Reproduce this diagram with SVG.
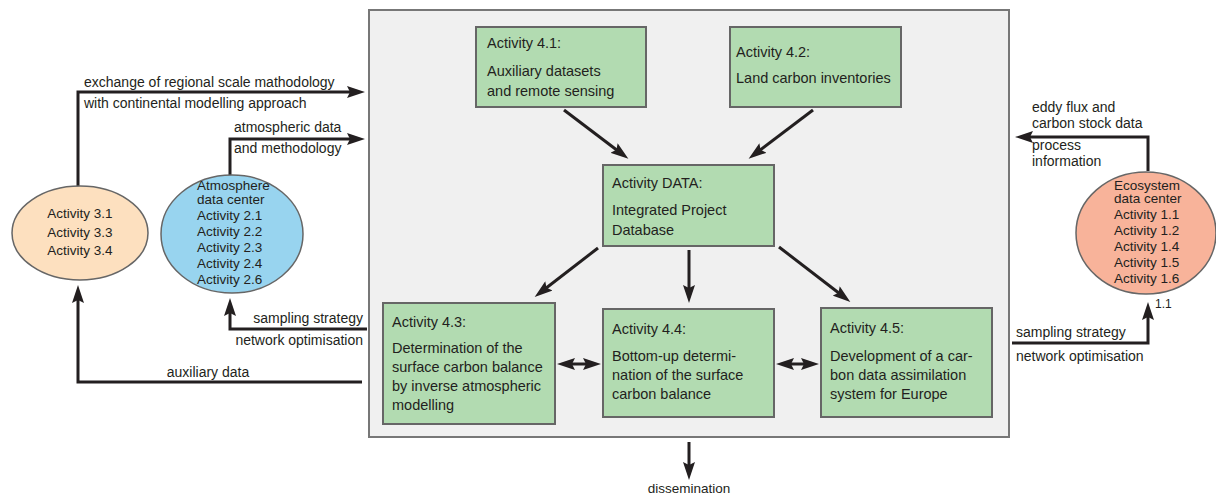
<svg xmlns="http://www.w3.org/2000/svg" width="1216" height="498" viewBox="0 0 1216 498">
  <style>
    text { font-family: "Liberation Sans", Arial, sans-serif; fill: #231f20; }
    .box { fill: #b2dbb1; stroke: #666666; stroke-width: 2; }
    .bt { font-size: 14.5px; }
    .lbl { font-size: 14px; }
    .et { font-size: 13.5px; }
    .wire { fill: none; stroke: #231f20; stroke-width: 3; }
    .ell { stroke: #666666; stroke-width: 1.5; }
  </style>
  <defs>
    <marker id="head" markerUnits="userSpaceOnUse" markerWidth="18" markerHeight="12" refX="10" refY="6" orient="auto-start-reverse" viewBox="0 0 18 12">
      <path d="M0,0 L18,6 L0,12 L3,6 z" fill="#231f20"/>
    </marker>
  </defs>

  <!-- project frame -->
  <rect id="frame" x="369" y="10" width="640" height="427" fill="#f0f0f0" stroke="#777777" stroke-width="2"/>

  <!-- connectors -->
  <g id="connectors">
    <path class="wire" d="M564,110 L622,154" marker-end="url(#head)"/>
    <path class="wire" d="M813,110 L755,154" marker-end="url(#head)"/>
    <path class="wire" d="M598,248 L541,292" marker-end="url(#head)"/>
    <path class="wire" d="M689,250 L689,295" marker-end="url(#head)"/>
    <path class="wire" d="M779,247 L844,297" marker-end="url(#head)"/>
    <path class="wire" d="M565,364 L593,364" marker-start="url(#head)" marker-end="url(#head)"/>
    <path class="wire" d="M784,364 L811,364" marker-start="url(#head)" marker-end="url(#head)"/>
    <path class="wire" d="M689,442 L689,472" marker-end="url(#head)"/>
    <path class="wire" d="M78,187 V92 H357" marker-end="url(#head)"/>
    <path class="wire" d="M230,175 V139 H357" marker-end="url(#head)"/>
    <path class="wire" d="M367,329 H230 V306" marker-end="url(#head)"/>
    <path class="wire" d="M362,382 H78 V293" marker-end="url(#head)"/>
    <path class="wire" d="M1148,171 V137 H1023" marker-end="url(#head)"/>
    <path class="wire" d="M1012,343 H1148 V310" marker-end="url(#head)"/>
  </g>

  <!-- connector labels -->
  <g id="labels" class="lbl">
    <text x="84" y="87">exchange of regional scale mathodology</text>
    <text x="84" y="108">with continental modelling approach</text>
    <text x="234" y="132">atmospheric data</text>
    <text x="234" y="153">and methodology</text>
    <text x="363" y="323" text-anchor="end">sampling strategy</text>
    <text x="363" y="345" text-anchor="end">network optimisation</text>
    <text x="208" y="377" text-anchor="middle">auxiliary data</text>
    <text x="1032" y="112">eddy flux and</text>
    <text x="1032" y="128">carbon stock data</text>
    <text x="1032" y="150">process</text>
    <text x="1032" y="166">information</text>
    <text x="1016" y="337">sampling strategy</text>
    <text x="1016" y="361">network optimisation</text>
    <text x="1155" y="308" font-size="12">1.1</text>
    <text x="689" y="493" text-anchor="middle" font-size="13.5">dissemination</text>
  </g>

  <!-- activity boxes -->
  <g id="act41">
    <rect class="box" x="476" y="27" width="170" height="80"/>
    <text class="bt" x="487" y="48">Activity 4.1:</text>
    <text class="bt" x="487" y="76">Auxiliary datasets</text>
    <text class="bt" x="487" y="96">and remote sensing</text>
  </g>
  <g id="act42">
    <rect class="box" x="730" y="27" width="171" height="80"/>
    <text class="bt" x="736" y="57">Activity 4.2:</text>
    <text class="bt" x="736" y="83">Land carbon inventories</text>
  </g>
  <g id="actdata">
    <rect class="box" x="603" y="165" width="171" height="81"/>
    <text class="bt" x="612" y="188">Activity DATA:</text>
    <text class="bt" x="612" y="215">Integrated Project</text>
    <text class="bt" x="612" y="235">Database</text>
  </g>
  <g id="act43">
    <rect class="box" x="383" y="303" width="172" height="121"/>
    <text class="bt" x="392" y="327">Activity 4.3:</text>
    <text class="bt" x="392" y="353">Determination of the</text>
    <text class="bt" x="392" y="372">surface carbon balance</text>
    <text class="bt" x="392" y="391">by inverse atmospheric</text>
    <text class="bt" x="392" y="410">modelling</text>
  </g>
  <g id="act44">
    <rect class="box" x="603" y="309" width="171" height="108"/>
    <text class="bt" x="612" y="334">Activity 4.4:</text>
    <text class="bt" x="612" y="361">Bottom-up determi-</text>
    <text class="bt" x="612" y="380">nation of the surface</text>
    <text class="bt" x="612" y="399">carbon balance</text>
  </g>
  <g id="act45">
    <rect class="box" x="821" y="308" width="171" height="109"/>
    <text class="bt" x="830" y="333">Activity 4.5:</text>
    <text class="bt" x="830" y="361">Development of a car-</text>
    <text class="bt" x="830" y="380">bon data assimilation</text>
    <text class="bt" x="830" y="399">system for Europe</text>
  </g>

  <!-- external partner groups -->
  <g id="act3x">
    <ellipse class="ell" cx="80" cy="233" rx="68" ry="47" fill="#fde0bf"/>
    <text class="et" x="80" y="218" text-anchor="middle">Activity 3.1</text>
    <text class="et" x="80" y="237" text-anchor="middle">Activity 3.3</text>
    <text class="et" x="80" y="255" text-anchor="middle">Activity 3.4</text>
  </g>
  <g id="atmosphere">
    <ellipse class="ell" cx="232" cy="234" rx="71" ry="59" fill="#98d4ef"/>
    <text class="et" x="197" y="190">Atmosphere</text>
    <text class="et" x="197" y="204">data center</text>
    <text class="et" x="197" y="220">Activity 2.1</text>
    <text class="et" x="197" y="236">Activity 2.2</text>
    <text class="et" x="197" y="252">Activity 2.3</text>
    <text class="et" x="197" y="268">Activity 2.4</text>
    <text class="et" x="197" y="284">Activity 2.6</text>
  </g>
  <g id="ecosystem">
    <ellipse class="ell" cx="1146" cy="233" rx="70" ry="61" fill="#f8b39a"/>
    <text class="et" x="1114" y="190">Ecosystem</text>
    <text class="et" x="1114" y="203">data center</text>
    <text class="et" x="1114" y="219">Activity 1.1</text>
    <text class="et" x="1114" y="235">Activity 1.2</text>
    <text class="et" x="1114" y="251">Activity 1.4</text>
    <text class="et" x="1114" y="267">Activity 1.5</text>
    <text class="et" x="1114" y="283">Activity 1.6</text>
  </g>
</svg>
